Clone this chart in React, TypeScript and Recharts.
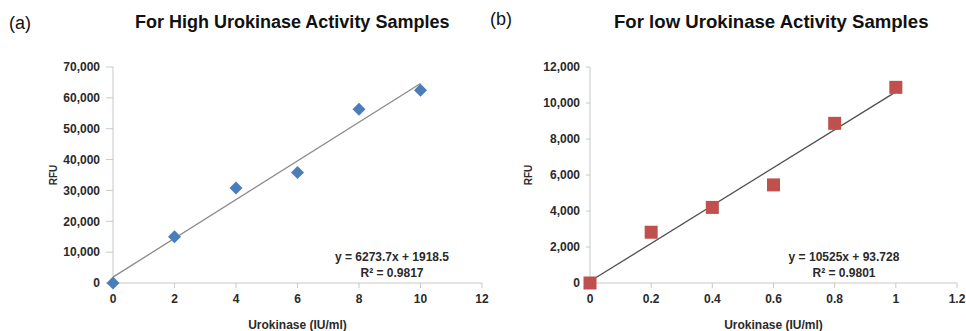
import { ScatterChart, Scatter, XAxis, YAxis } from "recharts";

// (a) high activity samples
const highX = [0, 2, 4, 6, 8, 10];
const highY = [0, 15000, 30800, 35800, 56300, 62500];
const highXTicks = [0, 2, 4, 6, 8, 10, 12];
const highYTicks = [0, 10000, 20000, 30000, 40000, 50000, 60000, 70000];
const highFit = [6273.7, 1918.5]; // slope, intercept

// (b) low activity samples
const lowX = [0, 0.2, 0.4, 0.6, 0.8, 1];
const lowY = [0, 2820, 4200, 5450, 8870, 10870];
const lowXTicks = [0, 0.2, 0.4, 0.6, 0.8, 1, 1.2];
const lowYTicks = [0, 2000, 4000, 6000, 8000, 10000, 12000];
const lowFit = [10525, 93.728];

const FONT = "Arial, 'Liberation Sans', sans-serif";
const tickStyle = { fontSize: 12, fontWeight: 700, fill: "#2a2a2a", fontFamily: FONT };
const axisGray = "#c8c8c8";

const toPoints = (xs: number[], ys: number[]) => xs.map((x, i) => ({ x, y: ys[i] }));
const fitPoints = (xs: number[], fit: number[]) => {
  const lo = Math.min(...xs), hi = Math.max(...xs);
  return [lo, hi].map((x) => ({ x, y: fit[0] * x + fit[1] }));
};

const Diamond = (p: any) => {
  const { cx, cy } = p;
  const r = 6.5;
  return <polygon points={`${cx},${cy - r} ${cx + r},${cy} ${cx},${cy + r} ${cx - r},${cy}`} fill="#4a7ebb" />;
};
const Square = (p: any) => {
  const { cx, cy } = p;
  const s = 13;
  return <rect x={cx - s / 2} y={cy - s / 2} width={s} height={s} fill="#c0504d" />;
};
const NoDot = () => null;

interface PanelProps {
  left: number; width: number; marginLeft: number; marginRight: number;
  xs: number[]; ys: number[]; xTicks: number[]; yTicks: number[]; fit: number[];
  tickSize: number; tickMargin: number; shape: any; lineColor: string; rfuOffset: number;
}

function Panel(props: PanelProps) {
  const { xs, ys, xTicks, yTicks, fit } = props;
  return (
    <div style={{ position: "absolute", left: props.left, top: 0 }}>
      <ScatterChart width={props.width} height={331} margin={{ top: 67, right: props.marginRight, bottom: 0, left: props.marginLeft }}>
        <XAxis type="number" dataKey="x" domain={[xTicks[0], xTicks[xTicks.length - 1]]} ticks={xTicks} height={48}
          tick={tickStyle} stroke={axisGray} tickSize={5} tickMargin={6} interval={0}
          label={{ value: "Urokinase (IU/ml)", position: "insideBottom", offset: 2, style: { fontSize: 12, fontWeight: 700, fill: "#2a2a2a", fontFamily: FONT } }} />
        <YAxis type="number" dataKey="y" domain={[yTicks[0], yTicks[yTicks.length - 1]]} ticks={yTicks} width={100}
          tick={tickStyle} stroke={axisGray} tickSize={props.tickSize} tickMargin={props.tickMargin} interval={0}
          tickFormatter={(v: number) => v.toLocaleString("en-US")}
          label={{ value: "RFU", angle: -90, position: "insideLeft", offset: props.rfuOffset, style: { fontSize: 10, fontWeight: 700, fill: "#2a2a2a", fontFamily: FONT, textAnchor: "middle" } }} />
        <Scatter data={fitPoints(xs, fit)} line={{ stroke: props.lineColor, strokeWidth: 1.3 }} shape={NoDot} isAnimationActive={false} />
        <Scatter data={toPoints(xs, ys)} shape={props.shape} isAnimationActive={false} />
      </ScatterChart>
    </div>
  );
}

const labelStyle = { position: "absolute" as const, fontFamily: FONT, color: "#111" };
const eqStyle = { position: "absolute" as const, fontFamily: FONT, fontSize: 12, fontWeight: 700, color: "#2a2a2a", textAlign: "center" as const, lineHeight: "16px", width: 140 };

export default function App() {
  return (
    <div style={{ position: "absolute", left: 0, top: 0, width: 966, height: 331, background: "#fff", overflow: "hidden" }}>
      <Panel left={0} width={497} marginLeft={13} marginRight={15} xs={highX} ys={highY} xTicks={highXTicks} yTicks={highYTicks} fit={highFit}
        tickSize={7} tickMargin={6} shape={Diamond} lineColor="#8a8a8a" rfuOffset={40} />
      <Panel left={483} width={483} marginLeft={7} marginRight={9} xs={lowX} ys={lowY} xTicks={lowXTicks} yTicks={lowYTicks} fit={lowFit}
        tickSize={4} tickMargin={6} shape={Square} lineColor="#505050" rfuOffset={38} />
      <div style={{ ...labelStyle, left: 9, top: 13, fontSize: 18 }}>(a)</div>
      <div style={{ ...labelStyle, left: 135, top: 12, fontSize: 18, fontWeight: 700 }}>For High Urokinase Activity Samples</div>
      <div style={{ ...labelStyle, left: 490, top: 9, fontSize: 18 }}>(b)</div>
      <div style={{ ...labelStyle, left: 614, top: 11, fontSize: 18.6, fontWeight: 700 }}>For low Urokinase Activity Samples</div>
      <div style={{ ...eqStyle, left: 322, top: 249 }}>y = 6273.7x + 1918.5<br />R² = 0.9817</div>
      <div style={{ ...eqStyle, left: 774, top: 249 }}>y = 10525x + 93.728<br />R² = 0.9801</div>
    </div>
  );
}
